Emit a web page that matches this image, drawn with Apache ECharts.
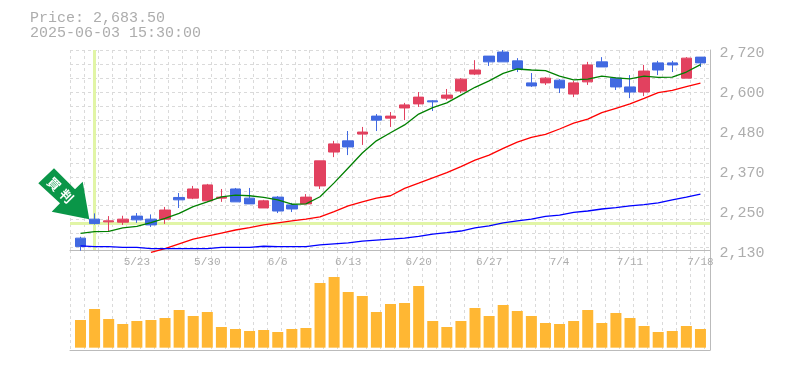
<!DOCTYPE html>
<html>
<head>
<meta charset="utf-8">
<style>html,body{margin:0;padding:0;background:#fff}#chart{width:785px;height:370px}</style>
<script src="https://cdn.jsdelivr.net/npm/echarts@6/dist/echarts.min.js"></script>
</head>
<body>
<div id="chart"></div>
<script>
const MONO = '"Liberation Mono", monospace';
const GREY = "#bbbbbb";
const TEXT_GREY = "#adadad";

const dates = [
  "5/19","5/20","5/21","5/22","5/23","5/26","5/27","5/28","5/29","5/30",
  "6/2","6/3","6/4","6/5","6/6","6/9","6/10","6/11","6/12","6/13",
  "6/16","6/17","6/18","6/19","6/20","6/23","6/24","6/25","6/26","6/27",
  "6/30","7/1","7/2","7/3","7/4","7/7","7/8","7/9","7/10","7/11",
  "7/14","7/15","7/16","7/17","7/18",
];

// open, close, low, high
const candles = [
  [2165,2140,2128,2169],[2221,2208,2205,2238],[2213,2216,2184,2230],[2212,2221,2204,2231],[2230,2219,2210,2239],
  [2221,2204,2198,2235],[2221,2248,2207,2257],[2285,2278,2254,2298],[2283,2310,2280,2319],[2275,2322,2272,2325],
  [2283,2286,2272,2310],[2310,2272,2272,2313],[2283,2266,2266,2313],[2254,2275,2254,2278],[2286,2245,2239,2289],
  [2263,2251,2242,2269],[2266,2286,2266,2295],[2319,2393,2310,2393],[2419,2443,2404,2452],[2452,2434,2410,2481],
  [2472,2478,2440,2493],[2525,2513,2481,2531],[2519,2525,2493,2537],[2549,2558,2513,2564],[2561,2581,2552,2596],
  [2570,2567,2540,2572],[2578,2587,2572,2605],[2599,2634,2593,2637],[2649,2661,2646,2690],[2702,2685,2673,2702],
  [2714,2685,2685,2720],[2688,2664,2655,2696],[2623,2614,2611,2652],[2623,2637,2617,2640],[2631,2608,2593,2634],
  [2590,2623,2581,2629],[2626,2676,2617,2685],[2685,2670,2670,2699],[2637,2611,2602,2637],[2611,2596,2578,2646],
  [2596,2658,2584,2676],[2682,2661,2646,2688],[2682,2676,2655,2688],[2637,2696,2637,2699],[2699,2682,2670,2699],
];

const maShort = [
  2179,2184,2185,2195,2200,2211,2223,2238,2258,2272,
  2287,2292,2290,2285,2278,2265,2266,2287,2328,2372,
  2416,2452,2476,2499,2531,2550,2564,2587,2610,2629,
  2651,2664,2661,2659,2643,2632,2634,2643,2638,2635,
  2643,2639,2640,2655,2677,
];

const maMid = [
  null,null,null,null,null,2123,2134,2148,2162,2171,
  2180,2189,2196,2204,2210,2216,2221,2228,2243,2260,
  2272,2283,2290,2312,2327,2343,2358,2376,2395,2410,
  2430,2448,2462,2471,2487,2504,2516,2535,2548,2561,
  2577,2594,2601,2612,2622,
];

const maLong = [
  2142,2140,2140,2138,2138,2134,2134,2134,2134,2134,
  2138,2138,2138,2141,2140,2140,2140,2145,2148,2151,
  2156,2159,2162,2165,2170,2177,2181,2186,2195,2201,
  2210,2216,2221,2229,2233,2241,2245,2251,2255,2260,
  2264,2269,2278,2286,2295,
];

const volumes = [
  27.7,38.7,28.7,23.7,26.7,27.7,29.7,37.7,31.7,35.7,
  20.7,18.7,16.7,17.7,15.7,18.7,19.7,64.7,70.7,55.7,
  51.7,35.7,43.7,44.7,61.7,26.7,20.7,26.7,39.7,31.7,
  42.7,36.7,31.7,24.7,23.7,26.7,37.7,24.7,34.7,29.7,
  21.7,15.7,16.7,21.7,18.7,
];

const priceTicks = [2130, 2248, 2366, 2484, 2602, 2720];
const crossPrice = 2209;
const crossIndex = 1;

const chart = echarts.init(document.getElementById("chart"));

const gridLine = { show: true, lineStyle: { color: "#dadada", type: [3, 3], width: 1 } };
const frameX = (gridIndex) => ({
  type: "value", gridIndex, min: 0, max: 45.42, interval: 1,
  axisLine: { show: true, onZero: false, lineStyle: { color: GREY, width: 1 } },
  axisTick: { show: false }, axisLabel: { show: false }, splitLine: gridLine,
});
const hiddenY = { show: false, splitLine: { show: false } };
const crossStyle = { color: "#e1f5a6", width: 3, type: "solid" };

chart.setOption({
  animation: false,
  backgroundColor: "#fff",
  title: {
    left: 25, top: 6,
    text: "Price: 2,683.50\n2025-06-03 15:30:00",
    textStyle: { fontFamily: MONO, fontSize: 15, fontWeight: "normal", color: TEXT_GREY, lineHeight: 15 },
  },
  grid: [
    { left: 70, top: 50, width: 640, height: 200 },
    { left: 70, top: 250, width: 640, height: 100 },
    { left: 73.45, top: 50, width: 634.05, height: 200 },
    { left: 73.45, top: 250, width: 634.05, height: 97.67 },
  ],
  xAxis: [
    frameX(0),
    frameX(1),
    {
      type: "category", gridIndex: 2, data: dates,
      axisLine: { show: false }, axisTick: { show: false },
      axisLabel: {
        interval: (i) => i % 5 === 4, margin: 7,
        fontFamily: MONO, fontSize: 11, color: TEXT_GREY,
      },
    },
    { type: "category", gridIndex: 3, data: dates, show: false },
  ],
  yAxis: [
    {
      type: "value", gridIndex: 0, inverse: true, min: 0, max: 14.19, interval: 1, position: "right",
      axisLine: { show: true, onZero: false, lineStyle: { color: GREY, width: 1 } },
      axisTick: { show: false }, axisLabel: { show: false }, splitLine: gridLine,
    },
    {
      type: "value", gridIndex: 1, position: "right", min: 0, max: 1,
      axisLine: { show: true, onZero: false, lineStyle: { color: GREY, width: 1 } },
      axisTick: { show: false }, axisLabel: { show: false }, splitLine: { show: false },
    },
    {
      type: "value", gridIndex: 2, position: "right", min: 2130, max: 2720, scale: true,
      axisLine: { show: false }, axisTick: { show: false }, splitLine: { show: false },
      axisLabel: {
        customValues: priceTicks, margin: 12, verticalAlign: "top", padding: [-4, 0, 0, 0],
        fontFamily: MONO, fontSize: 15, color: TEXT_GREY,
        formatter: (v) => (Math.round(v / 10) * 10).toLocaleString("en-US"),
      },
    },
    { type: "value", gridIndex: 3, min: 0, max: 97.67, ...hiddenY },
    { type: "value", gridIndex: 0, min: 2130, max: 2720, ...hiddenY },
  ],
  series: [
    {
      type: "line", xAxisIndex: 0, yAxisIndex: 4, data: [], z: 1, silent: true,
      markLine: {
        z: 1, silent: true, symbol: "none", label: { show: false }, animation: false,
        lineStyle: crossStyle,
        data: [{ yAxis: crossPrice }],
      },
    },
    {
      type: "line", xAxisIndex: 2, yAxisIndex: 2, data: [], z: 1, silent: true,
      markLine: {
        z: 1, silent: true, symbol: "none", label: { show: false }, animation: false,
        lineStyle: crossStyle,
        data: [{ xAxis: crossIndex }],
      },
    },
    {
      type: "candlestick", xAxisIndex: 2, yAxisIndex: 2, data: candles, barWidth: 11, z: 3,
      itemStyle: { color: "#e2415f", color0: "#4169e1", borderColor: "#e2415f", borderColor0: "#4169e1", borderWidth: 1 },
    },
    ...[[maShort, "#008000"], [maMid, "#ff0000"], [maLong, "#0000ff"]].map(([data, color]) => ({
      type: "line", xAxisIndex: 2, yAxisIndex: 2, data, z: 4, clip: false,
      showSymbol: false, lineStyle: { color, width: 1.3 },
    })),
    {
      type: "bar", xAxisIndex: 3, yAxisIndex: 3, data: volumes, barWidth: 11,
      itemStyle: { color: "#ffb733" },
    },
  ],
  graphic: [
    {
      type: "polygon", z: 10,
      shape: { points: [[54, 168.3], [75, 189.3], [82.7, 181.7], [89.3, 219.3], [51.7, 211.7], [60, 203.3], [38.3, 183.3]] },
      style: { fill: "#0a9648" },
    },
    {
      type: "text", z: 11, x: 54, y: 184, rotation: -Math.PI / 4,
      style: { text: "買", fill: "#fff", font: 'bold 13px "Noto Sans CJK JP"', align: "center", verticalAlign: "middle" },
    },
    {
      type: "text", z: 11, x: 66.5, y: 196, rotation: -Math.PI / 4,
      style: { text: "判", fill: "#fff", font: 'bold 13px "Noto Sans CJK JP"', align: "center", verticalAlign: "middle" },
    },
  ],
});
</script>
</body>
</html>
